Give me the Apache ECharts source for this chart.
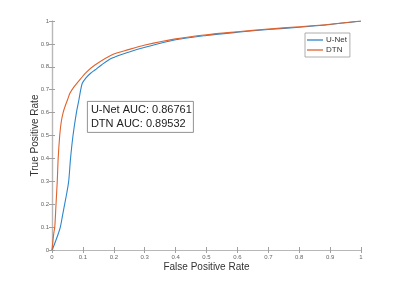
<!DOCTYPE html>
<html>
<head>
<meta charset="utf-8">
<script src="https://cdn.jsdelivr.net/npm/echarts@6/dist/echarts.min.js"></script>
<style>html,body{margin:0;padding:0;background:#fff}#c{width:399px;height:282px}</style>
</head>
<body>
<div id="c"></div>
<script>
var seriesNames = ['U-Net', 'DTN'];
var unetFPR = [0, 0.005, 0.012, 0.02, 0.027, 0.034, 0.041, 0.048, 0.054, 0.060, 0.068, 0.079, 0.087, 0.093, 0.098, 0.11, 0.125, 0.139, 0.16, 0.193, 0.25, 0.301, 0.4, 0.5, 0.6, 0.7, 0.8, 0.9, 1];
var unetTPR = [0, 0.015, 0.04, 0.07, 0.1, 0.15, 0.2, 0.25, 0.3, 0.4, 0.5, 0.6, 0.655, 0.70, 0.728, 0.752, 0.772, 0.786, 0.808, 0.837, 0.865, 0.885, 0.918, 0.937, 0.951, 0.963, 0.973, 0.985, 1];
var dtnFPR = [0, 0.003, 0.006, 0.009, 0.013, 0.017, 0.020, 0.025, 0.030, 0.036, 0.043, 0.050, 0.058, 0.070, 0.085, 0.11, 0.139, 0.193, 0.25, 0.301, 0.4, 0.5, 0.6, 0.7, 0.8, 0.9, 1];
var dtnTPR = [0, 0.04, 0.075, 0.1, 0.2, 0.3, 0.4, 0.5, 0.56, 0.6, 0.63, 0.655, 0.684, 0.71, 0.735, 0.775, 0.808, 0.852, 0.876, 0.895, 0.922, 0.94, 0.953, 0.965, 0.975, 0.986, 1];
var aucLines = ['U-Net AUC: 0.86761', 'DTN AUC: 0.89532'];
var xAxisTitle = 'False Positive Rate';
var yAxisTitle = 'True Positive Rate';

function pairs(xs, ys) { return xs.map(function (x, i) { return [x, ys[i]]; }); }

var axisLine = { show: true, lineStyle: { color: '#b8b8b8', width: 1.2 } };
var tick = { show: true, inside: true, length: 3, lineStyle: { color: '#a0a0a0', width: 1 } };
var font = 'Liberation Sans, Arial, Helvetica, sans-serif';

var chart = echarts.init(document.getElementById('c'), null, { renderer: 'canvas' });
chart.setOption({
  animation: false,
  backgroundColor: '#fff',
  grid: { left: 52, right: 38, top: 21, bottom: 32 },
  legend: {
    data: seriesNames.map(function (n) { return { name: n, icon: 'rect' }; }),
    orient: 'vertical',
    left: 305, top: 33,
    padding: [3, 3, 3, 2],
    itemGap: 2,
    itemWidth: 16, itemHeight: 1.3,
    borderColor: '#9a9a9a', borderWidth: 0.8,
    backgroundColor: '#fff',
    textStyle: { fontSize: 8, color: '#333', fontFamily: font, padding: [0, 0, 0, -2] }
  },
  xAxis: [{
    type: 'value', min: 0, max: 1, interval: 0.1,
    name: xAxisTitle, nameLocation: 'middle', nameGap: 12, nameMoveOverlap: false,
    nameTextStyle: { fontSize: 10, color: '#333', fontFamily: font },
    axisLine: axisLine, axisTick: tick,
    axisLabel: { fontSize: 6, color: '#666', margin: 4, fontFamily: font },
    splitLine: { show: false }
  }, {
    type: 'value', min: 0, max: 1, interval: 0.1, position: 'top',
    axisLine: axisLine, axisTick: tick, axisLabel: { show: false }, splitLine: { show: false }
  }],
  yAxis: [{
    type: 'value', min: 0, max: 1, interval: 0.1,
    name: yAxisTitle, nameLocation: 'middle', nameGap: 12, nameMoveOverlap: false,
    nameTextStyle: { fontSize: 10, color: '#333', fontFamily: font },
    axisLine: axisLine, axisTick: tick,
    axisLabel: { fontSize: 6, color: '#666', margin: 3, fontFamily: font },
    splitLine: { show: false }
  }, {
    type: 'value', min: 0, max: 1, interval: 0.1, position: 'right',
    axisLine: axisLine, axisTick: tick, axisLabel: { show: false }, splitLine: { show: false }
  }],
  series: [{
    name: seriesNames[0], type: 'line', data: pairs(unetFPR, unetTPR),
    symbol: 'none', smooth: 0.3, color: '#2c86cc', lineStyle: { width: 1.1 }
  }, {
    name: seriesNames[1], type: 'line', data: pairs(dtnFPR, dtnTPR),
    symbol: 'none', smooth: 0.3, color: '#e0622c', lineStyle: { width: 1.1 }
  }],
  graphic: [{
    type: 'group', left: 87, top: 101,
    children: [{
      type: 'rect', shape: { x: 0, y: 0, width: 106, height: 31 },
      style: { fill: '#fff', stroke: '#777', lineWidth: 0.8 }
    }, {
      type: 'text', x: 3.5, y: 9,
      style: { text: aucLines[0], fontSize: 11, fill: '#222', fontFamily: font, verticalAlign: 'middle' }
    }, {
      type: 'text', x: 3.5, y: 23,
      style: { text: aucLines[1], fontSize: 11, fill: '#222', fontFamily: font, verticalAlign: 'middle' }
    }]
  }]
});
</script>
</body>
</html>
